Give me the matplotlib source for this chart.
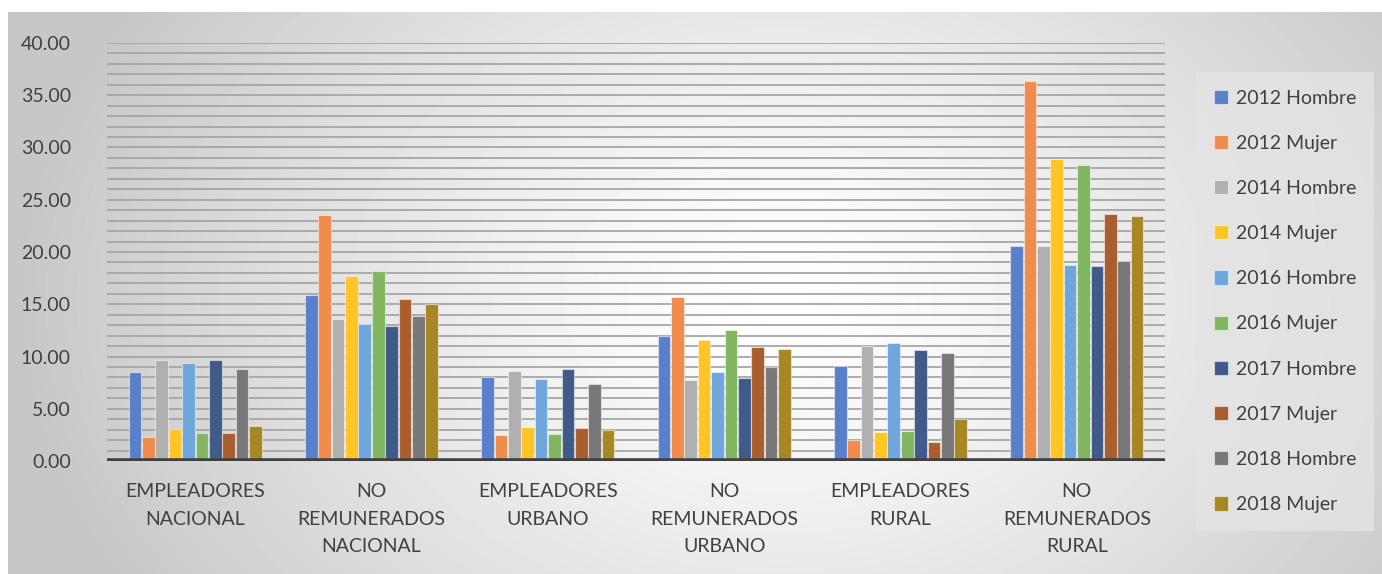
import numpy as np
import matplotlib.pyplot as plt
from matplotlib.colors import to_rgba

plt.rcParams['font.family'] = ['Liberation Sans Narrow', 'Lato', 'DejaVu Sans']

categorias = ['EMPLEADORES\nNACIONAL', 'NO\nREMUNERADOS\nNACIONAL', 'EMPLEADORES\nURBANO',
              'NO\nREMUNERADOS\nURBANO', 'EMPLEADORES\nRURAL', 'NO\nREMUNERADOS\nRURAL']

series = ['2012 Hombre', '2012 Mujer', '2014 Hombre', '2014 Mujer', '2016 Hombre',
          '2016 Mujer', '2017 Hombre', '2017 Mujer', '2018 Hombre', '2018 Mujer']

h2012 = [8.50, 15.85, 8.07, 11.93, 9.05, 20.55]
m2012 = [2.30, 23.50, 2.49, 15.70, 2.00, 36.33]
h2014 = [9.64, 13.60, 8.58, 7.72, 11.00, 20.55]
m2014 = [3.06, 17.70, 3.22, 11.55, 2.74, 28.90]
h2016 = [9.41, 13.15, 7.82, 8.55, 11.32, 18.73]
m2016 = [2.65, 18.15, 2.58, 12.50, 2.90, 28.33]
h2017 = [9.64, 12.90, 8.83, 7.91, 10.60, 18.70]
m2017 = [2.65, 15.50, 3.19, 10.94, 1.85, 23.60]
h2018 = [8.77, 13.90, 7.40, 9.00, 10.30, 19.14]
m2018 = [3.32, 15.05, 3.00, 10.69, 4.02, 23.42]
valores = [h2012, m2012, h2014, m2014, h2016, m2016, h2017, m2017, h2018, m2018]

colores = ['#5b80cb', '#ef8c4e', '#b0b0b0', '#ffc524', '#6fa7dc',
           '#80b660', '#405a8a', '#aa5d2e', '#787878', '#a68724']

W, H = 1382, 574
fig = plt.figure(figsize=(W / 100, H / 100), dpi=100)
fig.patch.set_facecolor('white')

# fondo con degradado radial (estilo Excel)
bg = fig.add_axes([8 / W, 0, 1 - 8 / W, (H - 12) / H])
yy, xx = np.mgrid[12:H, 8:W]
t = np.sqrt(((xx - 780) / 760.0) ** 2 + ((yy - 300) / 560.0) ** 2)
t = np.clip(t, 0, 1) ** 1.3
gris = 1.0 - 0.22 * t
bg.imshow(gris, cmap='gray', vmin=0, vmax=1, aspect='auto', interpolation='bilinear')
bg.set_axis_off()

ax = fig.add_axes([107 / W, (H - 461) / H, (1165 - 107) / W, 418 / H])
ax.patch.set_alpha(0)

x = np.arange(len(categorias))
paso = 0.076
ancho = 0.072
for i, (nombre, vals) in enumerate(zip(series, valores)):
    desp = (i - 4.5) * paso
    ax.bar(x + desp, vals, ancho, color=colores[i], label=nombre,
           edgecolor=to_rgba('white', 0.5), linewidth=0.8, zorder=3)

ax.set_xlim(-0.5, len(categorias) - 0.5)
ax.set_ylim(0, 40)
ax.set_yticks(np.arange(0, 41, 5))
ax.set_yticklabels([f'{v:.2f}' for v in np.arange(0, 41, 5)])
ax.set_yticks(np.arange(0, 41, 1), minor=True)
ax.grid(axis='y', which='both', color='#a6a6a6', linewidth=1.3, zorder=0)
ax.axhline(0, color='#404040', linewidth=4, zorder=4)

ax.set_xticks(x)
ax.set_xticklabels(categorias, fontsize=14, color='#404040', linespacing=1.75)
ax.tick_params(axis='x', length=0, pad=16)
ax.tick_params(axis='y', which='both', length=0, labelsize=14, labelcolor='#404040', pad=26)
for s in ax.spines.values():
    s.set_visible(False)

leg = fig.legend(loc='upper left', bbox_to_anchor=(1196 / W, 1 - 72 / H), ncol=1,
                 fontsize=14, frameon=True, fancybox=False, handlelength=0.75,
                 handleheight=0.75, handletextpad=0.4, labelspacing=1.45,
                 borderpad=0.9, labelcolor='#404040', borderaxespad=0)
leg.get_frame().set_facecolor('#e4e4e4')
leg.get_frame().set_edgecolor('none')
leg.get_frame().set_alpha(0.8)

fig.savefig('out.png', dpi=100)
